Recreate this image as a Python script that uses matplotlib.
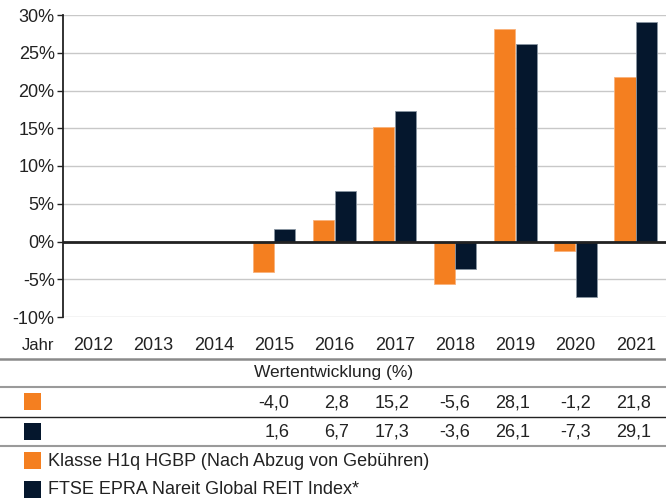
import matplotlib.pyplot as plt
import matplotlib.transforms as mtransforms
import numpy as np

plt.rcParams['font.family'] = ['Liberation Sans', 'DejaVu Sans']

years = ['2012', '2013', '2014', '2015', '2016', '2017', '2018', '2019', '2020', '2021']
fund = [None, None, None, -4.0, 2.8, 15.2, -5.6, 28.1, -1.2, 21.8]
index = [None, None, None, 1.6, 6.7, 17.3, -3.6, 26.1, -7.3, 29.1]
yticks = [-10, -5, 0, 5, 10, 15, 20, 25, 30]
fund_label = 'Klasse H1q HGBP (Nach Abzug von Gebühren)'
index_label = 'FTSE EPRA Nareit Global REIT Index*'
table_title = 'Wertentwicklung (%)'

orange = '#f47f20'
navy = '#05172d'
grid_c = '#c8c8c8'
text_c = '#222222'

fig = plt.figure(figsize=(6.66, 5.01), dpi=100)
ax = fig.add_axes([63/666, 1-317/501, 603/666, 302/501])

x = np.arange(len(years))
w = 0.35
fx = [i for i, v in zip(x, fund) if v is not None]
fv = [v for v in fund if v is not None]
ix = [i for i, v in zip(x, index) if v is not None]
iv = [v for v in index if v is not None]
ax.bar(np.array(fx) - 0.18, fv, width=w, color=orange, edgecolor='#f9b27a', linewidth=0.6, zorder=2)
ax.bar(np.array(ix) + 0.18, iv, width=w, color=navy, edgecolor='#8995a2', linewidth=0.6, zorder=2)

ax.set_xlim(-0.5, len(years) - 0.5)
ax.set_ylim(-10, 30)
ax.set_yticks(yticks)
ax.set_yticklabels([f'{t}%' for t in yticks], fontsize=13, color=text_c)
ax.set_xticks([])
ax.yaxis.grid(True, color=grid_c, linewidth=1)
ax.set_axisbelow(True)
ax.axhline(0, color='#222222', linewidth=2, zorder=3)
for s in ['top', 'right', 'bottom']:
    ax.spines[s].set_visible(False)
ax.spines['left'].set_color('#222222')
ax.spines['left'].set_linewidth(1.3)
ax.tick_params(axis='y', length=4, width=1, color='#222222', pad=2)

# table below the chart
tr = mtransforms.blended_transform_factory(ax.transData, fig.transFigure)

def fy(py):
    return 1 - py / 501

fig.text(22/666, fy(345), 'Jahr', fontsize=12, color=text_c, va='center', ha='left')
for i, yr in enumerate(years):
    fig.text(i, fy(345), yr, transform=tr, fontsize=13, color=text_c, ha='center', va='center')

fig.text(334/666, fy(373), table_title, fontsize=12.5, color=text_c, ha='center', va='center')

for i, v in enumerate(fund):
    if v is not None:
        fig.text(i + 0.25, fy(403), f'{v:.1f}'.replace('.', ','), transform=tr, fontsize=13,
                 color=text_c, ha='right', va='center')
for i, v in enumerate(index):
    if v is not None:
        fig.text(i + 0.25, fy(432), f'{v:.1f}'.replace('.', ','), transform=tr, fontsize=13,
                 color=text_c, ha='right', va='center')

def hline(py, c, lw):
    fig.add_artist(plt.Line2D([0, 1], [fy(py), fy(py)], transform=fig.transFigure, color=c, linewidth=lw))

hline(359, '#8a8a8a', 1.8)
hline(387, '#9a9a9a', 1.5)
hline(417, '#222222', 1.0)
hline(446, '#9a9a9a', 1.5)

def square(px, py, c):
    fig.add_artist(plt.Rectangle((px/666, fy(py + 17)), 17/666, 17/501, transform=fig.transFigure,
                                 facecolor=c, edgecolor='none'))

square(24, 393, orange)
square(24, 423, navy)
square(24, 452, orange)
square(24, 481, navy)
fig.text(48/666, fy(461), fund_label, fontsize=13, color=text_c, ha='left', va='center')
fig.text(48/666, fy(490), index_label, fontsize=13, color=text_c, ha='left', va='center')

fig.savefig('out.png', dpi=100)
